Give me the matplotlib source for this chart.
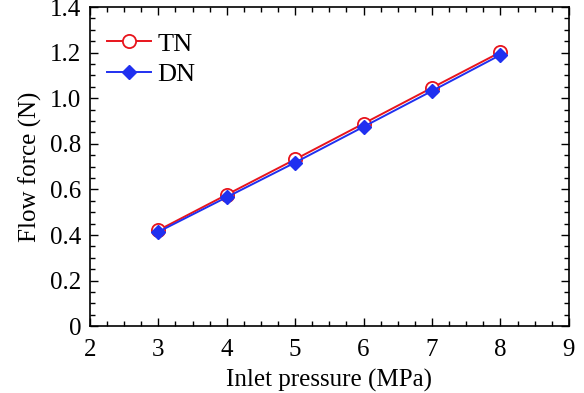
import numpy as np
import matplotlib.pyplot as plt
from matplotlib.ticker import MultipleLocator

# Dati
pressure = [3, 4, 5, 6, 7, 8]
force_tn = [0.421, 0.577, 0.732, 0.889, 1.046, 1.202]
force_dn = [0.414, 0.566, 0.718, 0.875, 1.032, 1.190]

plt.rcParams['font.family'] = ['Liberation Serif', 'DejaVu Serif']
plt.rcParams['font.size'] = 18

fig = plt.figure(figsize=(5.84, 3.93), dpi=100)
ax = fig.add_axes([0.154, 0.170, 0.820, 0.812])

ax.plot(pressure, force_tn, color='#e8141c', linewidth=1.4, marker='o', markersize=9.5,
        markerfacecolor='white', markeredgecolor='#e8141c', markeredgewidth=1.3, label='TN')
ax.plot(pressure, force_dn, color='#2030f0', linewidth=1.4, marker='D', markersize=7,
        markerfacecolor='#2030f0', markeredgecolor='#2030f0', label='DN')

ax.set_xlim(2, 9)
ax.set_ylim(0, 1.4)
ax.xaxis.set_major_locator(MultipleLocator(1))
ax.xaxis.set_minor_locator(MultipleLocator(0.25))
ax.yaxis.set_minor_locator(MultipleLocator(0.05))
ax.set_yticks([0, 0.2, 0.4, 0.6, 0.8, 1.0, 1.2, 1.4],
              ['0', '0.2', '0.4', '0.6', '0.8', '1.0', '1.2', '1.4'])

ax.tick_params(which='both', direction='in', top=True, right=True, width=1.0)
ax.tick_params(which='major', length=6, pad=6)
ax.tick_params(axis='x', which='major', pad=9)
ax.tick_params(which='minor', length=3.5)
for s in ax.spines.values():
    s.set_linewidth(1.2)

ax.set_xlabel('Inlet pressure (MPa)', labelpad=6)
ax.set_ylabel('Flow force (N)', labelpad=6)

ax.legend(loc='upper left', bbox_to_anchor=(0.0, 0.975), frameon=False,
          handlelength=1.65, handletextpad=0.25, borderaxespad=0.25,
          labelspacing=0.25, fontsize=19)

fig.savefig('out.png', dpi=100)
